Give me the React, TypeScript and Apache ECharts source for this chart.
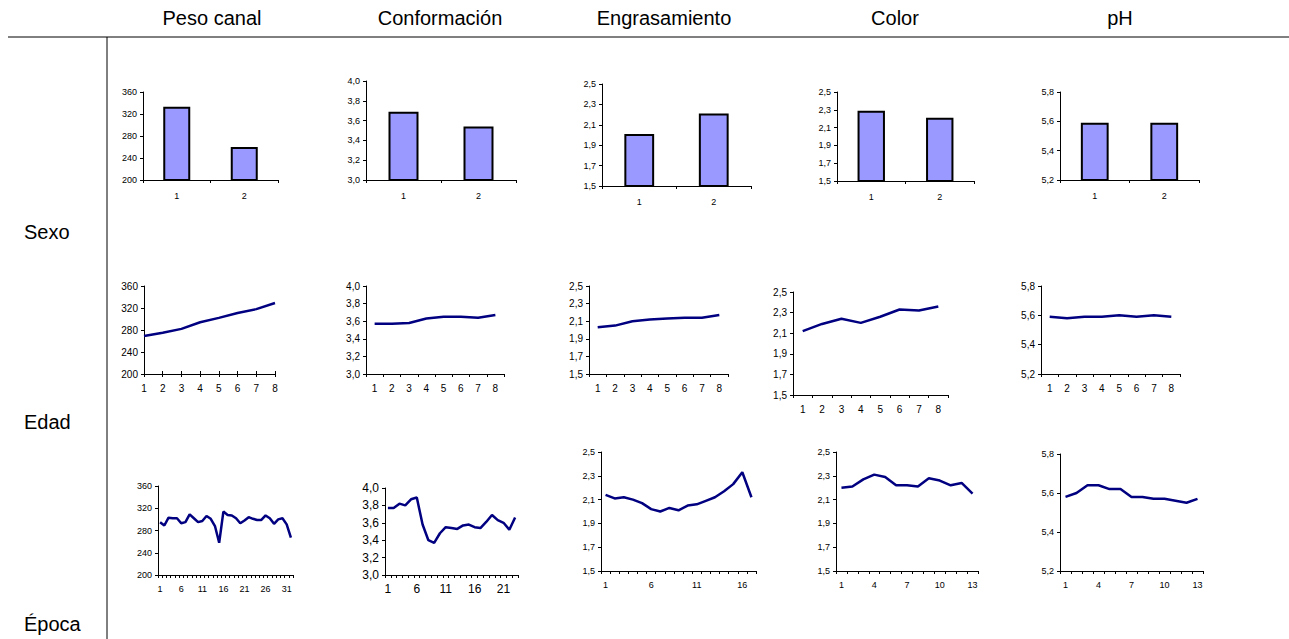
import React, { useEffect, useRef } from 'react';
import * as echarts from 'echarts';

// ---- Data ----
const columnTitles = ['Peso canal', 'Conformación', 'Engrasamiento', 'Color', 'pH'];
const rowTitles = ['Sexo', 'Edad', 'Época'];

const sexoCats = ['1', '2'];
const sexoPeso = [333, 260];
const sexoConf = [3.69, 3.54];
const sexoEngr = [2.01, 2.21];
const sexoColor = [2.29, 2.21];
const sexoPH = [5.59, 5.59];

const edadCats = ['1', '2', '3', '4', '5', '6', '7', '8'];
const edadPeso = [269, 275, 282, 294, 302, 311, 318, 329];
const edadConf = [3.57, 3.57, 3.58, 3.63, 3.65, 3.65, 3.64, 3.67];
const edadEngr = [2.03, 2.05, 2.1, 2.12, 2.13, 2.14, 2.14, 2.17];
const edadColor = [2.12, 2.19, 2.24, 2.2, 2.26, 2.33, 2.32, 2.36];
const edadPH = [5.59, 5.58, 5.59, 5.59, 5.6, 5.59, 5.6, 5.59];

const epocaPeso = [295, 289, 303, 302, 302, 293, 295, 309, 302, 295, 297, 306, 301, 288, 258, 314, 308, 307, 302, 293, 298, 304, 301, 299, 299, 307, 302, 292, 300, 302, 291, 267];
const epocaConf = [3.77, 3.77, 3.82, 3.8, 3.87, 3.89, 3.58, 3.4, 3.37, 3.48, 3.55, 3.54, 3.53, 3.57, 3.58, 3.55, 3.54, 3.61, 3.69, 3.63, 3.6, 3.52, 3.66];
const epocaEngr = [2.14, 2.11, 2.12, 2.1, 2.07, 2.02, 2.0, 2.03, 2.01, 2.05, 2.06, 2.09, 2.12, 2.17, 2.23, 2.33, 2.12];
const epocaColor = [2.2, 2.21, 2.27, 2.31, 2.29, 2.22, 2.22, 2.21, 2.28, 2.26, 2.22, 2.24, 2.15];
const epocaPH = [5.58, 5.6, 5.64, 5.64, 5.62, 5.62, 5.58, 5.58, 5.57, 5.57, 5.56, 5.55, 5.57];

const pesoTicks = [200, 240, 280, 320, 360];
const confTicks = [3.0, 3.2, 3.4, 3.6, 3.8, 4.0];
const engrTicks = [1.5, 1.7, 1.9, 2.1, 2.3, 2.5];
const colorTicks = [1.5, 1.7, 1.9, 2.1, 2.3, 2.5];
const phTicks = [5.2, 5.4, 5.6, 5.8];

const catsOf = (n: number) => Array.from({ length: n }, (_, i) => String(i + 1));

// ---- Panel layout ----
type Panel = {
  kind: 'bar' | 'line';
  cats: string[];
  data: number[];
  ticks: number[];
  dec: number;
  box: [number, number, number, number];
  fs: number;
  xm: number;
  gap: boolean;
  li: number;
  cross?: boolean;
};

const panels: Panel[] = [
  { kind: 'bar', cats: sexoCats, data: sexoPeso, ticks: pesoTicks, dec: 0, box: [143, 92, 135, 88], fs: 9, xm: 11, gap: true, li: 0 },
  { kind: 'bar', cats: sexoCats, data: sexoConf, ticks: confTicks, dec: 1, box: [366, 81, 150, 99], fs: 9, xm: 11, gap: true, li: 0 },
  { kind: 'bar', cats: sexoCats, data: sexoEngr, ticks: engrTicks, dec: 1, box: [602, 84, 149, 102], fs: 9, xm: 11, gap: true, li: 0 },
  { kind: 'bar', cats: sexoCats, data: sexoColor, ticks: colorTicks, dec: 1, box: [837, 92, 137, 89], fs: 9, xm: 11, gap: true, li: 0 },
  { kind: 'bar', cats: sexoCats, data: sexoPH, ticks: phTicks, dec: 1, box: [1060, 92, 139, 88], fs: 9, xm: 11, gap: true, li: 0 },

  { kind: 'line', cats: edadCats, data: edadPeso, ticks: pesoTicks, dec: 0, box: [144, 286, 131, 88], fs: 10, xm: 9, gap: false, li: 0, cross: true },
  { kind: 'line', cats: edadCats, data: edadConf, ticks: confTicks, dec: 1, box: [366, 286, 138, 88], fs: 10, xm: 9, gap: true, li: 0 },
  { kind: 'line', cats: edadCats, data: edadEngr, ticks: engrTicks, dec: 1, box: [589, 286, 139, 88], fs: 10, xm: 9, gap: true, li: 0 },
  { kind: 'line', cats: edadCats, data: edadColor, ticks: colorTicks, dec: 1, box: [793, 292, 155, 103], fs: 10, xm: 9, gap: true, li: 0 },
  { kind: 'line', cats: edadCats, data: edadPH, ticks: phTicks, dec: 1, box: [1041, 286, 139, 88], fs: 10, xm: 9, gap: true, li: 0 },

  { kind: 'line', cats: catsOf(epocaPeso.length), data: epocaPeso, ticks: pesoTicks, dec: 0, box: [158, 486, 135, 89], fs: 9, xm: 9, gap: true, li: 4 },
  { kind: 'line', cats: catsOf(epocaConf.length), data: epocaConf, ticks: confTicks, dec: 1, box: [385, 488, 133, 87], fs: 12, xm: 8, gap: true, li: 4 },
  { kind: 'line', cats: catsOf(epocaEngr.length), data: epocaEngr, ticks: engrTicks, dec: 1, box: [601, 452, 155, 119], fs: 9, xm: 9, gap: true, li: 4 },
  { kind: 'line', cats: catsOf(epocaColor.length), data: epocaColor, ticks: colorTicks, dec: 1, box: [836, 452, 142, 119], fs: 9, xm: 9, gap: true, li: 2 },
  { kind: 'line', cats: catsOf(epocaPH.length), data: epocaPH, ticks: phTicks, dec: 1, box: [1060, 454, 143, 117], fs: 9, xm: 9, gap: true, li: 2 },
];

const FONT = 'Liberation Sans, Arial, sans-serif';

function buildOption() {
  const grid: any[] = [];
  const xAxis: any[] = [];
  const yAxis: any[] = [];
  const series: any[] = [];

  panels.forEach((p, i) => {
    const [left, top, width, height] = p.box;
    grid.push({ left, top, width, height, containLabel: false });
    xAxis.push({
      type: 'category',
      gridIndex: i,
      data: p.cats,
      boundaryGap: p.gap,
      axisLine: { show: true, onZero: false, lineStyle: { color: '#000', width: 1 } },
      axisTick: { show: true, interval: 0, length: 3, lineStyle: { color: '#000', width: 1 } },
      axisLabel: { interval: p.li, fontSize: p.fs, color: '#000', margin: p.xm, fontFamily: FONT },
      splitLine: { show: false },
    });
    yAxis.push({
      type: 'value',
      gridIndex: i,
      min: p.ticks[0],
      max: p.ticks[p.ticks.length - 1],
      axisLine: { show: true, lineStyle: { color: '#000', width: 1 } },
      axisTick: { show: true, length: 3, customValues: p.ticks, lineStyle: { color: '#000', width: 1 } },
      axisLabel: {
        customValues: p.ticks,
        fontSize: p.fs,
        color: '#000',
        margin: 6,
        fontFamily: FONT,
        formatter: (v: number) => (p.dec === 0 ? String(Math.round(v)) : v.toFixed(p.dec).replace('.', ',')),
      },
      splitLine: { show: false },
    });
    if (p.kind === 'bar') {
      series.push({
        type: 'bar',
        xAxisIndex: i,
        yAxisIndex: i,
        data: p.data,
        barWidth: '40%',
        clip: true,
        itemStyle: { color: '#9999FF', borderColor: '#000', borderWidth: 2 },
      });
    } else {
      series.push({
        type: 'line',
        xAxisIndex: i,
        yAxisIndex: i,
        data: p.data,
        symbol: 'none',
        lineStyle: { color: '#000080', width: 2.5 },
      });
    }
  });

  // extra inside ticks (crossing tick marks) for panels that need them
  panels.forEach((p, i) => {
    if (!p.cross) return;
    xAxis.push({
      type: 'category',
      gridIndex: i,
      position: 'bottom',
      data: p.cats,
      boundaryGap: p.gap,
      axisLine: { show: false, onZero: false },
      axisTick: { show: true, inside: true, interval: 0, length: 3, lineStyle: { color: '#000', width: 1 } },
      axisLabel: { show: false },
      splitLine: { show: false },
    });
  });

  const headerX = [212, 440, 664, 895, 1120];
  const rowY = [232, 422, 624];
  const graphic: any[] = [
    { type: 'line', shape: { x1: 8, y1: 37, x2: 1289, y2: 37 }, style: { stroke: '#000', lineWidth: 1 } },
    { type: 'line', shape: { x1: 107, y1: 37, x2: 107, y2: 639 }, style: { stroke: '#000', lineWidth: 1 } },
    ...columnTitles.map((t, i) => ({
      type: 'text',
      x: headerX[i],
      y: 18,
      style: { text: t, font: `20px ${FONT}`, fill: '#000', textAlign: 'center', textVerticalAlign: 'middle' },
    })),
    ...rowTitles.map((t, i) => ({
      type: 'text',
      x: 24,
      y: rowY[i],
      style: { text: t, font: `20px ${FONT}`, fill: '#000', textAlign: 'left', textVerticalAlign: 'middle' },
    })),
  ];

  return {
    animation: false,
    backgroundColor: '#fff',
    textStyle: { fontFamily: FONT },
    grid,
    xAxis,
    yAxis,
    series,
    graphic,
  };
}

export default function App() {
  const ref = useRef<HTMLDivElement>(null);
  useEffect(() => {
    const chart = echarts.init(ref.current!, null, { renderer: 'svg', width: 1289, height: 639 });
    chart.setOption(buildOption() as any);
    return () => chart.dispose();
  }, []);
  return (
    <div
      ref={ref}
      style={{ position: 'fixed', left: 0, top: 0, width: 1289, height: 639, background: '#fff' }}
    />
  );
}
